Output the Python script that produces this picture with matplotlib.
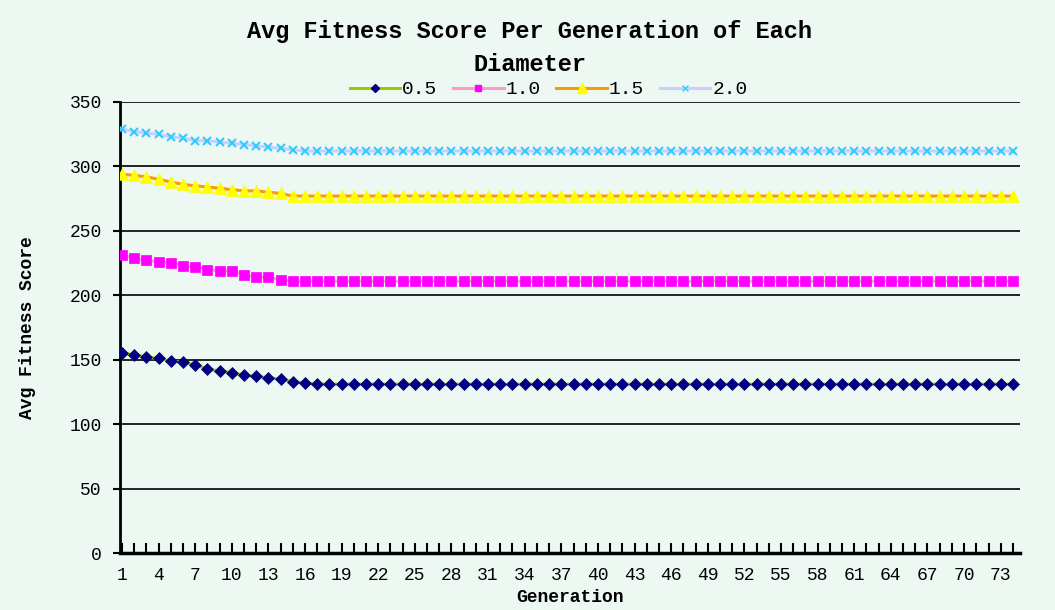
import matplotlib
matplotlib.use("Agg")
import matplotlib.pyplot as plt
from matplotlib.lines import Line2D

# Average fitness score for each generation, one list per diameter
generations = list(range(1, 75))
diameters = ["0.5", "1.0", "1.5", "2.0"]

score_d05 = [155, 154, 152, 151, 149, 148, 146, 143, 141, 140, 138, 137, 136, 135, 133, 132, 131, 131, 131, 131,
             131, 131, 131, 131, 131, 131, 131, 131, 131, 131, 131, 131, 131, 131, 131, 131, 131, 131, 131, 131,
             131, 131, 131, 131, 131, 131, 131, 131, 131, 131, 131, 131, 131, 131, 131, 131, 131, 131, 131, 131,
             131, 131, 131, 131, 131, 131, 131, 131, 131, 131, 131, 131, 131, 131]
score_d10 = [231, 229, 227, 226, 225, 223, 222, 220, 219, 219, 216, 214, 214, 212, 211, 211, 211, 211, 211, 211,
             211, 211, 211, 211, 211, 211, 211, 211, 211, 211, 211, 211, 211, 211, 211, 211, 211, 211, 211, 211,
             211, 211, 211, 211, 211, 211, 211, 211, 211, 211, 211, 211, 211, 211, 211, 211, 211, 211, 211, 211,
             211, 211, 211, 211, 211, 211, 211, 211, 211, 211, 211, 211, 211, 211]
score_d15 = [294, 293, 292, 290, 288, 286, 285, 284, 283, 282, 281, 281, 280, 279, 277, 277, 277, 277, 277, 277,
             277, 277, 277, 277, 277, 277, 277, 277, 277, 277, 277, 277, 277, 277, 277, 277, 277, 277, 277, 277,
             277, 277, 277, 277, 277, 277, 277, 277, 277, 277, 277, 277, 277, 277, 277, 277, 277, 277, 277, 277,
             277, 277, 277, 277, 277, 277, 277, 277, 277, 277, 277, 277, 277, 277]
score_d20 = [329, 327, 326, 325, 323, 322, 320, 320, 319, 318, 317, 316, 315, 314, 313, 312, 312, 312, 312, 312,
             312, 312, 312, 312, 312, 312, 312, 312, 312, 312, 312, 312, 312, 312, 312, 312, 312, 312, 312, 312,
             312, 312, 312, 312, 312, 312, 312, 312, 312, 312, 312, 312, 312, 312, 312, 312, 312, 312, 312, 312,
             312, 312, 312, 312, 312, 312, 312, 312, 312, 312, 312, 312, 312, 312]

x_labels = list(range(1, 75, 3))
y_ticks = [0, 50, 100, 150, 200, 250, 300, 350]

# line colour, marker, marker colour, marker size
styles = [
    ("#99CC00", "D", "#000080", 6.5),
    ("#FF99CC", "s", "#FF00FF", 7),
    ("#FF9900", "^", "#FFFF00", 8.5),
    ("#CCCCFF", "x", "#33CCFF", 6),
]

bg = "#EEF8F3"
mono = "Liberation Mono"

fig = plt.figure(figsize=(10.55, 6.1), dpi=100, facecolor=bg)
ax = fig.add_axes([0.1137, 0.0934, 0.853, 0.7394], facecolor=bg)

handles = []
for scores, label, (lc, mk, mc, ms) in zip([score_d05, score_d10, score_d15, score_d20], diameters, styles):
    ax.plot(generations, scores, color=lc, lw=2.2, marker=mk, markersize=ms,
            markerfacecolor=mc, markeredgecolor=mc, markeredgewidth=1.5 if mk == "x" else 0.5,
            zorder=3)
    handles.append(Line2D([0], [0], color=lc, lw=2.2, marker=mk, markersize=ms - 2,
                          markerfacecolor=mc, markeredgecolor=mc, label=label))

ax.set_ylim(0, 350)
ax.set_xlim(0.84, 74.57)
ax.set_yticks(y_ticks)
ax.set_xticks(x_labels)
ax.set_xticks(generations, minor=True)

for y in y_ticks[1:]:
    ax.axhline(y, color="black", lw=1.2, zorder=1)

for s in ["top", "right"]:
    ax.spines[s].set_visible(False)
ax.spines["left"].set_linewidth(2)
ax.spines["bottom"].set_linewidth(2.5)

ax.tick_params(axis="y", direction="out", length=5, width=1.5, labelsize=13, pad=8)
ax.tick_params(axis="x", which="both", direction="in", length=7, width=1.5, labelsize=13, pad=10)
for lab in ax.get_xticklabels() + ax.get_yticklabels():
    lab.set_fontfamily(mono)

ax.set_xlabel("Generation", fontfamily=mono, fontweight="bold", fontsize=13, labelpad=4)
ax.set_ylabel("Avg Fitness Score", fontfamily=mono, fontweight="bold", fontsize=13, labelpad=24)

fig.text(0.502, 0.921, "Avg Fitness Score Per Generation of Each\nDiameter", ha="center", va="center",
         fontfamily=mono, fontweight="bold", fontsize=17, linespacing=1.55)

fig.legend(handles=handles, loc="center", bbox_to_anchor=(0.52, 0.853), ncol=4, frameon=False,
           prop={"family": mono, "size": 14}, handlelength=2.6, handletextpad=0.1, columnspacing=0.8)

fig.savefig("out.png", dpi=100, facecolor=bg)
